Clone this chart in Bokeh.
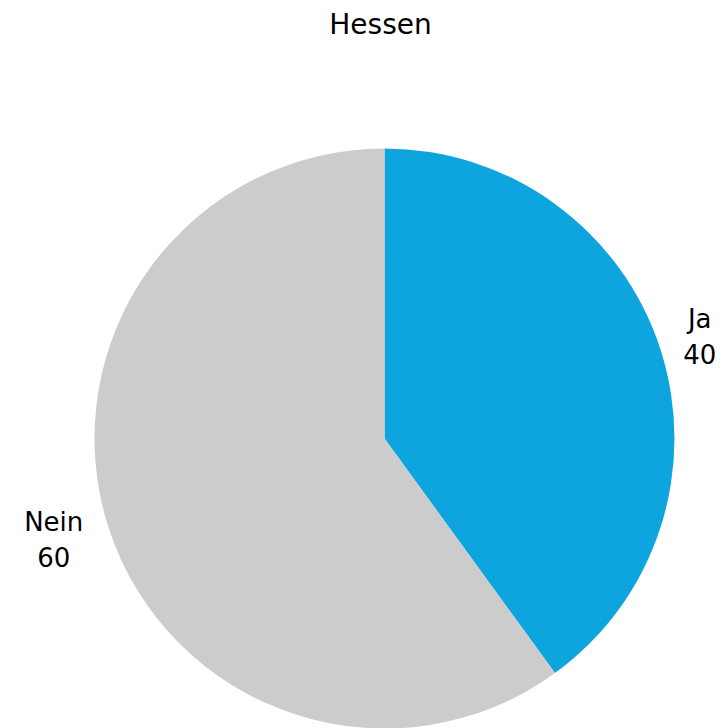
import math
from bokeh.plotting import figure
from bokeh.models import ColumnDataSource, Range1d
from bokeh.core.properties import value
from bokeh.embed import file_html
from bokeh.resources import INLINE

title = "Hessen"
categories = ["Ja", "Nein"]
values = [40, 60]
colors = ["#0EA5DF", "#CCCCCC"]

W, H = 726, 728
cx, cy, R = 384, H - 438, 290
label_r = 315
font_px = 26

total = sum(values)
starts, ends, lx, ly, texts = [], [], [], [], []
a = math.pi / 2
for c, v in zip(categories, values):
    sweep = v / total * 2 * math.pi
    starts.append(a)
    ends.append(a - sweep)
    mid = a - sweep / 2
    edge_x = cx + label_r * math.cos(mid)
    half_w = 0.6 * font_px * max(len(c), len(str(v))) / 2
    side = 1 if math.cos(mid) >= 0 else -1
    lx.append(edge_x + side * half_w)
    ly.append(cy + (label_r + 15) * math.sin(mid))
    texts.append(f"{c}\n{v}")
    a -= sweep

src = ColumnDataSource(dict(start=starts, end=ends, color=colors, lx=lx, ly=ly, text=texts))

p = figure(width=W, height=H, output_backend="svg", toolbar_location=None,
           x_range=Range1d(0, W), y_range=Range1d(0, H), min_border=0)
p.axis.visible = False
p.grid.visible = False
p.outline_line_color = None
p.background_fill_color = "white"

p.wedge(x=cx, y=cy, radius=R, start_angle="start", end_angle="end", direction="clock",
        fill_color="color", line_color=None, source=src)
p.text(x="lx", y="ly", text="text", source=src, text_align="center", text_baseline="middle",
       text_font=value("DejaVu Sans"), text_font_size=f"{font_px}px", text_color="#000000",
       text_line_height=1.2)
p.text(x=[380], y=[H - 24], text=[title], text_align="center", text_baseline="middle",
       text_font=value("DejaVu Sans"), text_font_size="28px", text_color="#000000")

open("out.html", "w").write(file_html(p, INLINE))
